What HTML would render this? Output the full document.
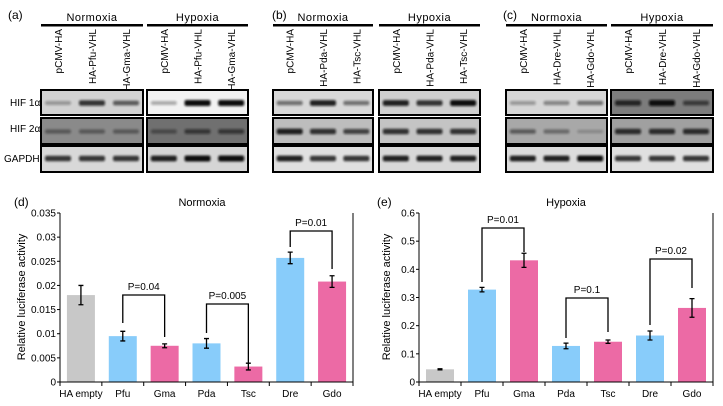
<!DOCTYPE html>
<html><head><meta charset="utf-8"><style>
html,body{margin:0;padding:0;background:#fff;}
svg{display:block;font-family:"Liberation Sans",sans-serif;}
</style></head><body>
<svg id="s" width="723" height="406" viewBox="0 0 723 406" xmlns="http://www.w3.org/2000/svg">
<defs><filter id="bl" x="-20%" y="-100%" width="140%" height="300%"><feGaussianBlur stdDeviation="1.1"/></filter></defs>
</svg>
<script>
const s=document.getElementById('s');let h='';
function t(x,y,str,sz,anc,extra){h+=`<text x="${x}" y="${y}" font-size="${sz}" text-anchor="${anc||'start'}" ${extra||''}>${str}</text>`;}
// panel letters & headers
t(8,19,'(a)',12);t(272,19,'(b)',12);t(503,19,'(c)',12);
const groups=[[41,143,'Normoxia',['pCMV-HA','HA-Pfu-VHL','HA-Gma-VHL']],[147,248,'Hypoxia',['pCMV-HA','HA-Pfu-VHL','HA-Gma-VHL']],
[273,373,'Normoxia',['pCMV-HA','HA-Pda-VHL','HA-Tsc-VHL']],[379,480,'Hypoxia',['pCMV-HA','HA-Pda-VHL','HA-Tsc-VHL']],
[506,607,'Normoxia',['pCMV-HA','HA-Dre-VHL','HA-Gdo-VHL']],[611,713,'Hypoxia',['pCMV-HA','HA-Dre-VHL','HA-Gdo-VHL']]];
const bg=[['#d2d2d2','#8a8a8a','#d8d8d8'],['#f2f2f2','#707070','#d5d5d5'],['#d8d8d8','#bdbdbd','#e0e0e0'],['#cfcfcf','#c4c4c4','#d8d8d8'],['#d6d6d6','#a8a8a8','#dcdcdc'],['#7c7c7c','#a0a0a0','#e0e0e0']];
const inten=[[[0.3,0.8,0.6],[0.4,0.4,0.4],[0.8,0.8,0.8]],[[0.3,1,1],[0.4,0.6,0.6],[0.9,1,1]],[[0.5,0.9,0.5],[0.9,0.8,0.7],[0.9,0.8,0.8]],[[0.9,0.8,1],[0.8,0.8,0.8],[0.9,0.9,0.9]],[[0.3,0.4,0.5],[0.5,0.4,0.2],[0.9,0.9,1]],[[0.8,1,0.6],[0.8,0.8,0.8],[0.8,0.8,0.8]]];
const rows=[[90,115],[118,144],[146,172]];
groups.forEach((g,gi)=>{const [x0,x1,name,labs]=g,w=x1-x0;
 t((x0+x1)/2,21,name,11,'middle','letter-spacing="0.5"');
 h+=`<rect x="${x0}" y="24" width="${w}" height="2.5" fill="#000"/>`;
 labs.forEach((l,i)=>{const cx=x0+w*(2*i+1)/6+4;h+=`<text font-size="10" text-anchor="end" transform="translate(${cx},29) rotate(-90)">${l}</text>`;});
 rows.forEach((r,ri)=>{h+=`<rect x="${x0}" y="${r[0]}" width="${w}" height="${r[1]-r[0]}" fill="${bg[gi][ri]}" stroke="#000" stroke-width="2"/>`;
  labs.forEach((l,i)=>{const cx=x0+w*(2*i+1)/6,a=inten[gi][ri][i],my=(r[0]+r[1])/2+(ri==2?0:1);
   h+=`<rect x="${cx-13}" y="${my-2-a*1.5}" width="26" height="${3+a*3}" rx="2" fill="#111" opacity="${a}" filter="url(#bl)"/>`;});});
});
t(10,106,'HIF 1α',10);t(10,132,'HIF 2α',10);t(4,162,'GAPDH',10);
// charts
const cols=['#c8c8c8','#88ccfa','#ec6aa5','#88ccfa','#ec6aa5','#88ccfa','#ec6aa5'];
const cats=['HA empty','Pfu','Gma','Pda','Tsc','Dre','Gdo'];
function chart(L,R,max,step,nd,vals,errs,br,title,tx,lab,lx,ylx){
 const T=213,B=382,Y=v=>B-v/max*(B-T),w=(R-L)/7;
 t(tx,206,title,11,'middle');t(lx,206,lab,12);
 vals.forEach((v,i)=>{const c=L+w*(i+0.5);h+=`<rect x="${c-14}" y="${Y(v)}" width="28" height="${B-Y(v)}" fill="${cols[i]}"/>`;
  const e=errs[i];h+=`<path d="M${c},${Y(v+e)}V${Y(v-e)}M${c-2.5},${Y(v+e)}h5M${c-2.5},${Y(v-e)}h5" stroke="#000" stroke-width="1.3" fill="none"/>`;
  t(c,397,cats[i],10,'middle');});
 h+=`<path d="M${L},${T}V${B}H${R}V${T}" stroke="#000" fill="none" stroke-width="1"/>`;
 for(let v=0;v<=max+1e-9;v+=step){const y=Y(v);h+=`<path d="M${L-3},${y}H${L}" stroke="#000"/>`;t(L-4,y+3.5,+v.toFixed(nd)+'',10,'end');}
 for(let i=0;i<=7;i++){const x=L+w*i;h+=`<path d="M${x},${B}v4" stroke="#000"/>`;}
 br.forEach(b=>{const [i,top,ly,ry,p]=b,c1=L+w*(i+0.5),c2=L+w*(i+1.5);
  h+=`<path d="M${c1},${ly}V${top}H${c2}V${ry}" stroke="#000" stroke-width="1.3" fill="none"/>`;t((c1+c2)/2,top-5,p,10,'middle');});
 h+=`<text font-size="11" text-anchor="middle" transform="translate(${ylx},297) rotate(-90)">Relative luciferase activity</text>`;
}
chart(60,353,0.035,0.005,3,[0.018,0.0095,0.0075,0.008,0.0032,0.0257,0.0208],[0.002,0.001,0.0004,0.001,0.0007,0.0012,0.0012],
 [[1,295,323,337,'P=0.04'],[3,304,333,363,'P=0.005'],[5,231,247,269,'P=0.01']],'Normoxia',202,'(d)',14,25);
chart(419,713,0.6,0.1,1,[0.045,0.328,0.432,0.128,0.143,0.165,0.263],[0.002,0.008,0.025,0.01,0.006,0.016,0.033],
 [[1,228,282,252,'P=0.01'],[3,298,338,332,'P=0.1'],[5,259,325,288,'P=0.02']],'Hypoxia',566,'(e)',377,390);
s.insertAdjacentHTML('beforeend',h);
</script>
</body></html>
